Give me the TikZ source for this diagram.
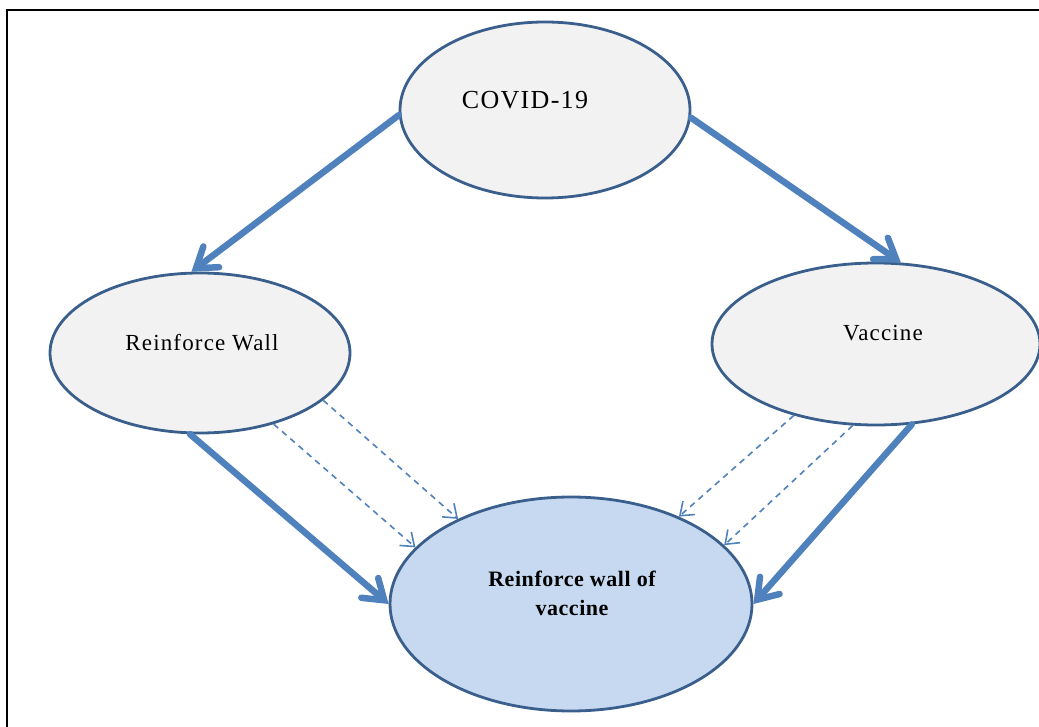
\documentclass[tikz,border=0pt]{standalone}
\usepackage{fontspec}
\setmainfont{Liberation Serif}
\usetikzlibrary{shapes.geometric,arrows.meta}
\definecolor{edgeblue}{HTML}{3B5F8D}
\definecolor{arrowblue}{HTML}{4F81BD}
\definecolor{lightgray}{HTML}{F2F2F2}
\definecolor{lightblue}{HTML}{C6D9F1}
\newfontfamily\spacedfont[LetterSpace=5]{Liberation Serif}
\newfontfamily\spacedbold[LetterSpace=2.5]{Liberation Serif Bold}
\tikzset{
  oval/.style={ellipse, draw=edgeblue, line width=2.8pt, fill=lightgray, inner sep=0pt},
  bigarrow/.style={draw=arrowblue, line width=6.5pt, line cap=round,
    -{Straight Barb[length=19pt,width=26pt,line cap=round]}},
  dasharrow/.style={draw=arrowblue, line width=1.6pt, dash pattern=on 6pt off 5pt,
    -{Straight Barb[length=12pt,width=18pt]}},
  label/.style={font=\spacedfont\fontsize{23pt}{29pt}\selectfont, align=center, inner sep=0pt}
}
\begin{document}
\begin{tikzpicture}[x=1pt,y=-1pt]
\useasboundingbox (0,0) rectangle (1039,727);
% frame
\draw[line width=2pt] (7,727) -- (7,10) -- (1039,10);
% ovals
\node[oval, minimum width=290pt, minimum height=176pt] (covid) at (545,110) {};
\node[oval, minimum width=300pt, minimum height=160pt] (wall) at (200,353) {};
\node[oval, minimum width=328pt, minimum height=162pt] (vac) at (876,344) {};
\node[oval, fill=lightblue, minimum width=362pt, minimum height=214pt] (res) at (571,604) {};
% texts
\node[label, font=\spacedfont\fontsize{26pt}{30pt}\selectfont] (tcovid) at (525,100) {COVID-19};
\node[label] (twall) at (202,343) {Reinforce Wall};
\node[label] (tvac) at (883,333) {Vaccine};
\node[label, font=\spacedbold\fontsize{22pt}{29pt}\selectfont] (tres) at (572,593) {Reinforce wall of\\vaccine};
% thick arrows
\draw[bigarrow] (covid.182) -- (wall.96);
\draw[bigarrow] (covid.357) -- (vac.73);
\draw[bigarrow] (wall.263) -- (res.180);
\draw[bigarrow] (vac.294) -- (res.0);
% dashed arrows
\draw[dasharrow] (wall.339) -- (res.143);
\draw[dasharrow] (wall.316) -- (res.160);
\draw[dasharrow] (vac.221) -- (res.39);
\draw[dasharrow] (vac.254) -- (res.21);
\end{tikzpicture}
\end{document}
